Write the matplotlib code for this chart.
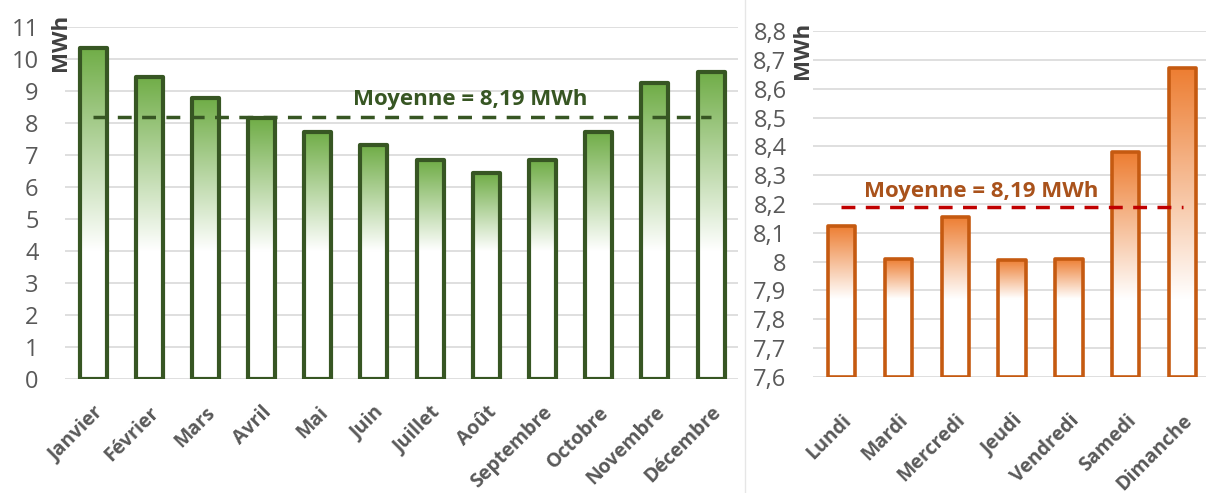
import numpy as np
import matplotlib.pyplot as plt
from matplotlib.colors import to_rgb

months = ["Janvier", "Février", "Mars", "Avril", "Mai", "Juin", "Juillet",
          "Août", "Septembre", "Octobre", "Novembre", "Décembre"]
monthly_mwh = [10.35, 9.45, 8.78, 8.15, 7.72, 7.30, 6.83, 6.43, 6.83, 7.72, 9.25, 9.60]

days = ["Lundi", "Mardi", "Mercredi", "Jeudi", "Vendredi", "Samedi", "Dimanche"]
daily_mwh = [8.124, 8.010, 8.156, 8.006, 8.010, 8.380, 8.673]

mean_mwh = 8.19
mean_label = "Moyenne = 8,19 MWh"

plt.rcParams['font.family'] = ['Open Sans', 'DejaVu Sans']

W, H = 1206, 493
fig = plt.figure(figsize=(W / 100, H / 100), dpi=100)


def px_axes(left, top, right, bottom):
    return fig.add_axes([left / W, 1 - bottom / H, (right - left) / W, (bottom - top) / H])


def gradient_bars(ax, values, base, white_at, top_color, edge_color, lw):
    x = np.arange(len(values))
    w = 0.48
    c = np.array(to_rgb(top_color))
    for xi, v in zip(x, values):
        ys = np.linspace(base, v, 300)
        t = np.clip((ys - white_at) / (v - white_at), 0, 1)
        img = 1 - t[:, None] * (1 - c)[None, :]
        ax.imshow(img[:, None, :], extent=[xi - w / 2, xi + w / 2, base, v],
                  origin='lower', aspect='auto', interpolation='bilinear', zorder=2)
    ax.bar(x, np.array(values) - base, width=w, bottom=base, facecolor='none',
           edgecolor=edge_color, linewidth=lw, joinstyle='round', zorder=3)


def style(ax, labels, pad_x):
    for s in ax.spines.values():
        s.set_visible(False)
    ax.grid(axis='y', color='#D9D9D9', lw=1.2)
    ax.set_axisbelow(True)
    ax.tick_params(length=0, colors='#595959', labelsize=17)
    ax.tick_params(axis='y', pad=19)
    ax.set_xticks(np.arange(len(labels)))
    ax.set_xticklabels(labels, rotation=45, ha='right', va='top',
                       rotation_mode='anchor', fontweight='bold', fontsize=14)
    ax.tick_params(axis='x', pad=pad_x)


# left chart: months
ax1 = px_axes(65, 27, 738, 379)
gradient_bars(ax1, monthly_mwh, 0, 4.0, '#70AD47', '#375623', 3.0)
ax1.hlines(mean_mwh, 0, len(months) - 1, colors='#375623', lw=2.5,
           linestyles=(0, (4, 3)), zorder=4)
ax1.text(6.71, 8.72, mean_label, ha='center', va='center', color='#375623',
         fontweight='bold', fontsize=16)
ax1.set_xlim(-0.5, 11.48)
ax1.set_ylim(0, 11)
ax1.set_yticks(np.arange(0, 12, 1))
style(ax1, months, 17)

# right chart: week days
ax2 = px_axes(813, 31, 1206, 377)
gradient_bars(ax2, daily_mwh, 7.6, 7.87, '#ED7D31', '#C55A11', 2.6)
ax2.hlines(mean_mwh, 0, len(days) - 1, colors='#C00000', lw=2.5,
           linestyles=(0, (4, 3)), zorder=4)
ax2.text(2.45, 8.242, mean_label, ha='center', va='center', color='#A9521B',
         fontweight='bold', fontsize=16)
ax2.set_xlim(-0.5, 6.41)
ax2.set_ylim(7.6, 8.8)
yt = np.round(np.arange(7.6, 8.81, 0.1), 1)
ax2.set_yticks(yt)
ax2.set_yticklabels([f"{v:g}".replace('.', ',') for v in yt])
style(ax2, days, 24)

fig.text(61 / W, 1 - 42 / H, "MWh", rotation=90, ha='center', va='center',
         fontweight='bold', fontsize=16, color='#404040')
fig.text(803 / W, 1 - 50 / H, "MWh", rotation=90, ha='center', va='center',
         fontweight='bold', fontsize=16, color='#404040')
fig.add_artist(plt.Line2D([745 / W, 745 / W], [0, 1], color='#E6E6E6', lw=1))

plt.savefig("out.png", dpi=100)
